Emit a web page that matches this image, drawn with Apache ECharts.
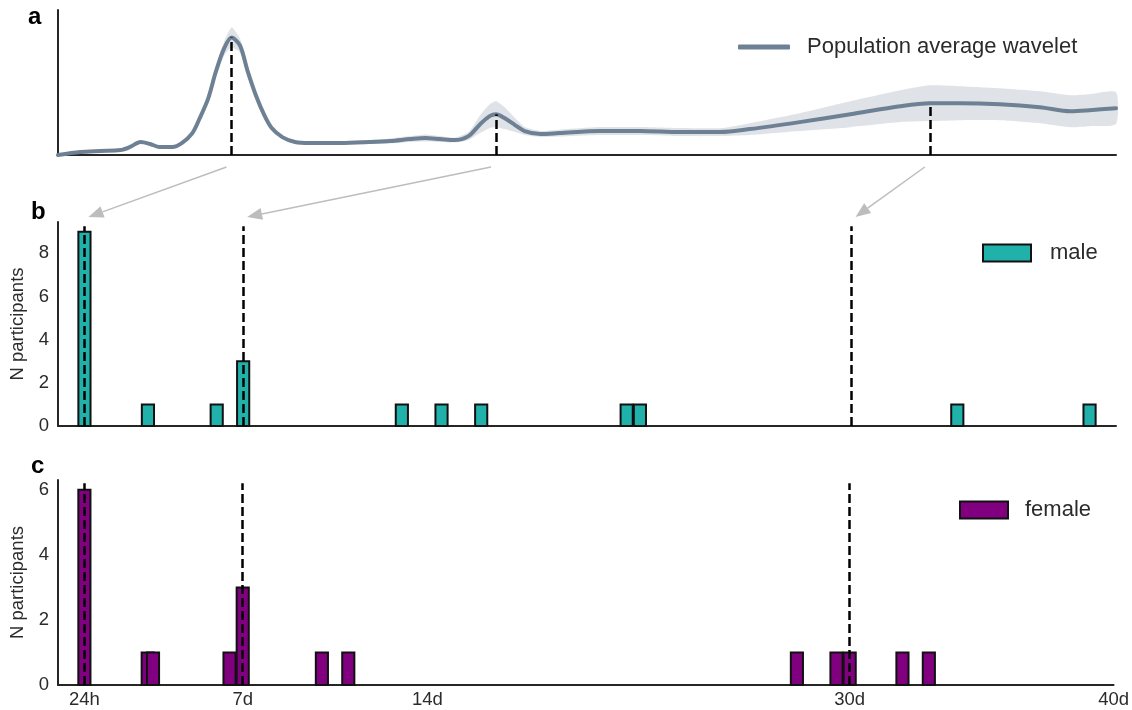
<!DOCTYPE html>
<html>
<head>
<meta charset="utf-8">
<script src="https://cdn.jsdelivr.net/npm/echarts@6/dist/echarts.min.js"></script>
<style>html,body{margin:0;padding:0;background:#fff;}#c{width:1132px;height:710px;}</style>
</head>
<body>
<div id="c"></div>
<script>
// ---- Panel a: population average wavelet (x = scale index 0..100) ----
const aX    = [0,2.1,4.0,5.9,6.8,7.8,8.7,9.6,10.8,11.7,12.7,13.4,14.2,14.9,15.7,16.4,17.2,17.9,18.7,19.5,20.2,21.2,22.4,23.8,26.7,29.5,31.4,33.3,34.7,36.1,37.5,38.8,39.9,40.8,41.4,42.2,43.2,44.1,45.6,47.4,51.2,55.0,58.8,62.6,65.4,70.1,74.9,79.6,82.4,85.3,89.0,92.8,95.7,97.5,100];
const aMean = [0.000,0.023,0.031,0.038,0.062,0.100,0.085,0.062,0.062,0.092,0.169,0.285,0.438,0.638,0.823,0.908,0.846,0.654,0.462,0.308,0.208,0.138,0.100,0.092,0.092,0.100,0.108,0.123,0.131,0.123,0.115,0.146,0.238,0.300,0.315,0.285,0.231,0.185,0.162,0.169,0.185,0.185,0.177,0.177,0.200,0.254,0.315,0.377,0.400,0.400,0.392,0.369,0.338,0.346,0.362];
const aLo   = [0.000,0.015,0.023,0.030,0.054,0.088,0.077,0.054,0.054,0.080,0.154,0.262,0.407,0.600,0.769,0.831,0.792,0.616,0.431,0.285,0.193,0.126,0.088,0.080,0.080,0.085,0.089,0.100,0.104,0.100,0.096,0.115,0.169,0.208,0.215,0.200,0.177,0.154,0.139,0.142,0.154,0.154,0.146,0.146,0.154,0.185,0.215,0.254,0.262,0.269,0.269,0.246,0.215,0.223,0.239];
const aHi   = [0.008,0.031,0.039,0.046,0.070,0.112,0.093,0.070,0.070,0.104,0.184,0.308,0.469,0.676,0.877,0.985,0.900,0.692,0.493,0.331,0.223,0.150,0.112,0.104,0.104,0.115,0.127,0.146,0.158,0.146,0.134,0.177,0.307,0.392,0.415,0.370,0.285,0.216,0.185,0.196,0.216,0.216,0.208,0.208,0.246,0.323,0.415,0.500,0.538,0.531,0.515,0.492,0.461,0.469,0.485];
const aPeakIdx = [15, 34, 48];

// ---- Panels b/c: histograms of peak period (days) ----
const maleDays     = [1, 3.4, 6, 7, 13, 14.5, 16, 21.5, 22, 34, 39];
const maleCounts   = [9, 1, 1, 3, 1, 1, 1, 1, 1, 1, 1];
const femaleDays   = [1, 3.4, 3.6, 6.5, 7, 10, 11, 28, 29.5, 30, 32, 33];
const femaleCounts = [6, 1, 1, 1, 3, 1, 1, 1, 1, 1, 1, 1];
const binWidth = 0.46;
const peakDays = [1, 7, 30];
const tickDays   = [1, 7, 14, 30, 40];
const tickLabels = ['24h', '7d', '14d', '30d', '40d'];
const yTicksB = [0, 2, 4, 6, 8];
const yTicksC = [0, 2, 4, 6];

const FONT = '"Liberation Sans", Arial, Helvetica, sans-serif';
const TXT = '#2b2b2b';
const AX = '#262626';
const LINE = '#6e8093';
const BAND = 'rgba(110,128,147,0.22)';
const TICK_FS = 18.5;

const chart = echarts.init(document.getElementById('c'), null, {renderer: 'canvas'});

function axisLineStyle() { return {show: true, lineStyle: {color: AX, width: 2}}; }

function histSeries(name, days, counts, color, xi, dashTop) {
  return {
    name: name,
    type: 'custom',
    xAxisIndex: xi, yAxisIndex: xi,
    itemStyle: {color: color, borderColor: '#111', borderWidth: 2},
    data: days.map((d, i) => [d, counts[i]]),
    encode: {x: 0, y: 1},
    renderItem: function (params, api) {
      const x = api.value(0), y = api.value(1);
      const p0 = api.coord([x - binWidth / 2, y]);
      const p1 = api.coord([x + binWidth / 2, 0]);
      return {
        type: 'rect',
        shape: {x: p0[0], y: p0[1], width: p1[0] - p0[0], height: p1[1] - p0[1]},
        style: {fill: color, stroke: '#111', lineWidth: 2}
      };
    },
    markLine: {
      silent: true, symbol: ['none', 'none'], z: 10,
      label: {show: false},
      lineStyle: {color: '#000', width: 2.5, type: [9, 4]},
      emphasis: {disabled: true},
      data: peakDays.map(d => [{coord: [d, 0]}, {coord: [d, dashTop]}])
    }
  };
}

const yName = {
  name: 'N participants', nameLocation: 'middle', nameGap: 31, nameRotate: 90,
  nameTextStyle: {color: TXT, fontSize: TICK_FS, fontFamily: FONT}
};

const option = {
  animation: false,
  backgroundColor: '#fff',
  textStyle: {fontFamily: FONT},
  grid: [
    {left: 58, right: 16, top: 10, bottom: 555},
    {left: 58, right: 16, top: 222, bottom: 284},
    {left: 58, right: 16, top: 480, bottom: 25}
  ],
  xAxis: [
    {gridIndex: 0, type: 'value', min: 0, max: 100, axisLine: axisLineStyle(), axisTick: {show: false}, axisLabel: {show: false}, splitLine: {show: false}},
    {gridIndex: 1, type: 'value', min: 0, max: 40, axisLine: axisLineStyle(), axisTick: {show: false}, axisLabel: {show: false}, splitLine: {show: false}},
    {gridIndex: 2, type: 'value', min: 0, max: 40, axisLine: axisLineStyle(), axisTick: {show: false}, splitLine: {show: false},
      axisLabel: {show: true, customValues: tickDays, color: TXT, fontSize: TICK_FS, fontFamily: FONT, margin: 5,
        formatter: v => { const k = tickDays.indexOf(v); return k >= 0 ? tickLabels[k] : ''; }}}
  ],
  yAxis: [
    {gridIndex: 0, type: 'value', min: 0, max: 1.12, axisLine: axisLineStyle(), axisTick: {show: false}, axisLabel: {show: false}, splitLine: {show: false}},
    Object.assign({gridIndex: 1, type: 'value', min: 0, max: 9.45, axisLine: axisLineStyle(), axisTick: {show: false}, splitLine: {show: false},
      axisLabel: {customValues: yTicksB, color: TXT, fontSize: TICK_FS, fontFamily: FONT, margin: 9}}, yName),
    Object.assign({gridIndex: 2, type: 'value', min: 0, max: 6.3, axisLine: axisLineStyle(), axisTick: {show: false}, splitLine: {show: false},
      axisLabel: {customValues: yTicksC, color: TXT, fontSize: TICK_FS, fontFamily: FONT, margin: 9}}, yName)
  ],
  legend: [
    {left: 733, top: 31, itemWidth: 52, itemHeight: 5, icon: 'roundRect',
      textStyle: {fontSize: 22, color: TXT, fontFamily: FONT, padding: [0, 0, 0, 12]},
      data: [{name: 'Population average wavelet', itemStyle: {color: LINE}}]},
    {left: 977, top: 237, itemWidth: 48, itemHeight: 17, icon: 'rect',
      textStyle: {fontSize: 22, color: TXT, fontFamily: FONT, padding: [0, 0, 0, 14]},
      data: [{name: 'male', itemStyle: {color: '#20b2aa', borderColor: '#111', borderWidth: 2}}]},
    {left: 954, top: 494, itemWidth: 48, itemHeight: 17, icon: 'rect',
      textStyle: {fontSize: 22, color: TXT, fontFamily: FONT, padding: [0, 0, 0, 12]},
      data: [{name: 'female', itemStyle: {color: '#800080', borderColor: '#111', borderWidth: 2}}]}
  ],
  series: [
    {
      name: 'band', type: 'custom', xAxisIndex: 0, yAxisIndex: 0, silent: true, z: 1,
      data: aX.map((x, i) => [x, aLo[i], aHi[i]]),
      encode: {x: 0, y: [1, 2]},
      renderItem: function (params, api) {
        if (params.dataIndex !== 0) return null;
        const pts = [];
        for (let i = 0; i < aX.length; i++) pts.push(api.coord([aX[i], aHi[i]]));
        for (let i = aX.length - 1; i >= 0; i--) pts.push(api.coord([aX[i], aLo[i]]));
        return {type: 'polygon', shape: {points: pts, smooth: 0.2}, style: {fill: BAND}};
      }
    },
    {
      name: 'Population average wavelet', type: 'line', xAxisIndex: 0, yAxisIndex: 0,
      data: aX.map((x, i) => [x, aMean[i]]),
      symbol: 'none', smooth: 0.3, z: 3,
      lineStyle: {color: LINE, width: 4, cap: 'round', join: 'round'},
      itemStyle: {color: LINE},
      markLine: {
        silent: true, symbol: ['none', 'none'], z: 10, label: {show: false},
        lineStyle: {color: '#000', width: 2.5, type: [9, 4]},
        emphasis: {disabled: true},
        data: aPeakIdx.map(i => [{coord: [aX[i], 0]}, {coord: [aX[i], aMean[i]]}])
      }
    },
    histSeries('male', maleDays, maleCounts, '#20b2aa', 1, 9.25),
    histSeries('female', femaleDays, femaleCounts, '#800080', 2, 6.2)
  ]
};
chart.setOption(option);

// Panel letters and arrows linking peaks in (a) to periods in (b)
const graphics = [
  {type: 'text', left: 28, top: 5, style: {text: 'a', font: 'bold 24px ' + FONT, fill: '#000'}},
  {type: 'text', left: 31, top: 200, style: {text: 'b', font: 'bold 24px ' + FONT, fill: '#000'}},
  {type: 'text', left: 31, top: 454, style: {text: 'c', font: 'bold 24px ' + FONT, fill: '#000'}}
];
aPeakIdx.forEach((idx, k) => {
  const s = chart.convertToPixel({xAxisIndex: 0, yAxisIndex: 0}, [aX[idx], 0]);
  const e = chart.convertToPixel({xAxisIndex: 1, yAxisIndex: 1}, [peakDays[k], 9.45]);
  const x0 = s[0] - 5, y0 = s[1] + 12;
  const x1 = e[0] + 4, y1 = e[1] - 5;
  const dx = x1 - x0, dy = y1 - y0, L = Math.hypot(dx, dy);
  const ux = dx / L, uy = dy / L, nx = -uy, ny = ux;
  const HL = 15, HW = 6;
  const bx = x1 - ux * HL, by = y1 - uy * HL;
  graphics.push({type: 'line', silent: true, shape: {x1: x0, y1: y0, x2: bx, y2: by}, style: {stroke: '#bdbdbd', lineWidth: 1.5}});
  graphics.push({type: 'polygon', silent: true, shape: {points: [[x1, y1], [bx + nx * HW, by + ny * HW], [bx - nx * HW, by - ny * HW]]}, style: {fill: '#bdbdbd'}});
});
chart.setOption({graphic: graphics});
</script>
</body>
</html>
